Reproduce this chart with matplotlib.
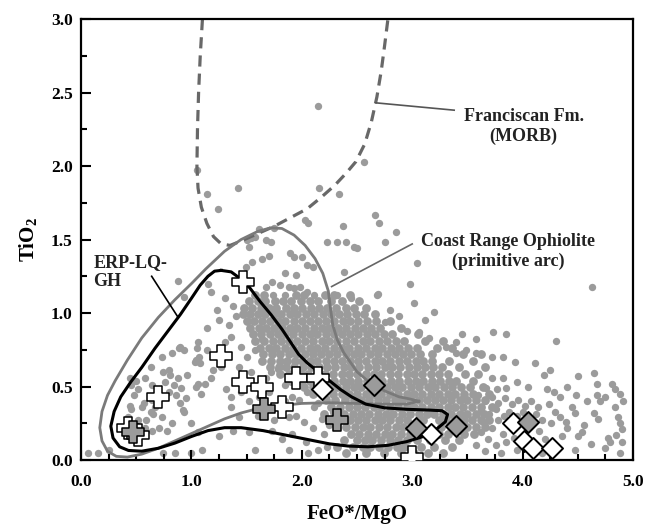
import matplotlib.pyplot as plt
import numpy as np

plt.rcParams['font.family'] = 'Liberation Serif'
plt.rcParams['font.weight'] = 'bold'
plt.rcParams['axes.labelweight'] = 'bold'
plt.rcParams['mathtext.fontset'] = 'custom'
plt.rcParams['mathtext.rm'] = 'Liberation Serif:bold'
plt.rcParams['mathtext.bf'] = 'Liberation Serif:bold'

# ---- Coast Range Ophiolite analyses (gray dots) ----
# sparse points above the main band
upper_pts = [(2.15, 2.41), (1.05, 1.97), (1.14, 1.81), (1.24, 1.71), (1.42, 1.85), (2.16, 1.85),
             (2.03, 1.63), (2.06, 1.61), (2.23, 1.48), (2.56, 2.03), (2.34, 1.81), (2.66, 1.67),
             (2.70, 1.61), (2.85, 1.55), (2.37, 1.59), (2.32, 1.48), (2.40, 1.48), (2.47, 1.45),
             (2.50, 1.44), (2.75, 1.48), (3.04, 1.34), (2.98, 1.20), (2.69, 1.13), (2.45, 1.10),
             (1.75, 1.58), (1.61, 1.57), (1.58, 1.52), (1.54, 1.51), (1.50, 1.50), (1.68, 1.50),
             (1.72, 1.48), (1.52, 1.45), (1.55, 1.35), (1.64, 1.37), (1.70, 1.39), (1.49, 1.31),
             (1.89, 1.41), (1.93, 1.38), (2.00, 1.38), (2.05, 1.33), (2.10, 1.31), (1.85, 1.27),
             (1.95, 1.26), (2.38, 1.28), (1.73, 1.21), (1.80, 1.19), (1.68, 1.18), (1.88, 1.18),
             (1.93, 1.17), (1.98, 1.18), (2.05, 1.14), (2.11, 1.12), (1.74, 1.12), (1.85, 1.12),
             (2.32, 1.12), (0.88, 1.22), (0.93, 1.11), (1.15, 1.20), (1.18, 1.14), (1.23, 1.02),
             (2.68, 1.12), (3.02, 1.07), (3.20, 1.01), (4.63, 1.18), (2.95, 0.88), (3.06, 0.87),
             (3.15, 0.83), (3.31, 0.77), (3.40, 0.80), (3.45, 0.86), (3.58, 0.82), (3.49, 0.75),
             (3.40, 0.73), (3.58, 0.73), (3.12, 0.95), (2.88, 0.98), (2.80, 1.02), (2.75, 0.94)]

# sparse points on the low-ratio side
left_pts = [(1.14, 0.90), (1.34, 0.92), (1.36, 0.84), (1.06, 0.80), (1.14, 0.75), (0.90, 0.77),
            (0.93, 0.75), (0.82, 0.73), (0.73, 0.70), (1.04, 0.68), (1.08, 0.66), (1.20, 0.61),
            (1.18, 0.56), (1.06, 0.52), (1.04, 0.50), (0.88, 0.56), (0.81, 0.58), (0.76, 0.53),
            (0.84, 0.51), (0.63, 0.63), (0.58, 0.56), (0.50, 0.54), (0.45, 0.51), (0.52, 0.48),
            (0.64, 0.41), (0.67, 0.36), (0.95, 0.42), (0.90, 0.39), (0.93, 0.33), (1.09, 0.45),
            (0.55, 0.36), (0.63, 0.33), (0.73, 0.29), (0.82, 0.25), (0.78, 0.20), (0.45, 0.35),
            (0.43, 0.29), (0.52, 0.27), (0.58, 0.22), (0.64, 0.20), (1.00, 0.25), (1.06, 0.19),
            (1.36, 0.36), (1.43, 0.29), (1.38, 0.20), (1.52, 0.19), (1.58, 0.07), (2.06, 0.05),
            (1.88, 0.07), (0.06, 0.05), (0.15, 0.05), (0.25, 0.07), (1.00, 0.05), (1.25, 0.16),
            (1.73, 0.20), (1.91, 0.18), (1.82, 0.14), (2.04, 0.12), (2.15, 0.07), (2.23, 0.09),
            (1.45, 0.77), (1.50, 0.70), (1.58, 0.75), (1.64, 0.82), (1.43, 0.63), (1.54, 0.60),
            (1.31, 0.48), (1.36, 0.43), (1.45, 0.46), (1.61, 0.43), (1.70, 0.46), (1.85, 0.51),
            (1.91, 0.43), (1.97, 0.41), (2.05, 0.46), (2.11, 0.36), (2.15, 0.39), (0.89, 0.76),
            (1.05, 0.76), (1.07, 0.70), (0.74, 0.60), (0.80, 0.61), (0.44, 0.56), (0.64, 0.51),
            (0.80, 0.46), (0.86, 0.44), (0.91, 0.49), (0.92, 0.34), (0.44, 0.37), (0.48, 0.44),
            (0.57, 0.39), (0.65, 0.31), (0.71, 0.22), (0.59, 0.27), (0.74, 0.05), (0.85, 0.05),
            (1.10, 0.07), (1.03, 0.67), (0.96, 0.58), (1.12, 0.52), (1.27, 0.63), (1.30, 0.80),
            (1.25, 0.95), (1.40, 0.98), (1.38, 1.05), (1.30, 1.10), (1.95, 0.30), (2.02, 0.26),
            (2.10, 0.22), (2.18, 0.28), (1.88, 0.29), (1.75, 0.27), (1.60, 0.30), (2.20, 0.18),
            (2.25, 0.24), (2.28, 0.33), (2.22, 0.42), (1.85, 0.40), (1.52, 0.40), (1.68, 0.56),
            (1.78, 0.62), (1.72, 0.60)]

# sparse / medium points on the high-ratio side
right_pts = [(3.60, 0.44), (3.66, 0.40), (3.72, 0.43), (3.78, 0.39), (3.84, 0.42), (3.90, 0.38),
             (3.96, 0.41), (4.02, 0.37), (4.08, 0.40), (4.14, 0.36), (3.62, 0.34), (3.70, 0.31),
             (3.76, 0.35), (3.83, 0.30), (3.88, 0.33), (3.95, 0.30), (4.00, 0.33), (4.12, 0.31),
             (4.18, 0.27), (3.64, 0.26), (3.72, 0.22), (3.78, 0.27), (3.82, 0.18), (3.69, 0.14),
             (3.76, 0.10), (3.85, 0.12), (3.62, 0.19), (3.58, 0.10), (3.66, 0.06), (3.80, 0.05),
             (3.92, 0.15), (3.95, 0.07), (4.15, 0.20), (4.20, 0.14), (4.18, 0.05), (4.24, 0.38),
             (4.29, 0.33), (4.26, 0.25), (4.34, 0.29), (4.40, 0.22), (4.36, 0.16), (4.39, 0.26),
             (4.45, 0.36), (4.47, 0.32), (4.50, 0.16), (4.54, 0.19), (4.56, 0.24), (4.47, 0.07),
             (4.62, 0.11), (4.65, 0.32), (4.68, 0.28), (4.75, 0.08), (4.77, 0.15), (4.79, 0.12),
             (4.86, 0.29), (4.88, 0.25), (4.90, 0.21), (4.85, 0.17), (4.90, 0.12), (4.88, 0.05),
             (4.84, 0.36), (4.91, 0.40), (4.70, 0.40), (4.67, 0.44), (4.48, 0.44), (4.34, 0.43),
             (4.28, 0.46), (4.22, 0.48), (4.25, 0.61), (4.19, 0.58), (4.50, 0.57), (4.65, 0.59),
             (4.67, 0.52), (4.81, 0.52), (4.84, 0.48), (4.88, 0.45), (4.75, 0.43), (4.58, 0.40),
             (4.40, 0.50), (4.05, 0.50), (3.95, 0.53), (3.85, 0.49), (3.77, 0.48), (3.67, 0.49),
             (3.72, 0.56), (3.82, 0.56), (3.72, 0.70), (3.82, 0.70), (3.93, 0.67), (4.11, 0.66),
             (3.73, 0.87), (3.85, 0.86), (4.30, 0.81)]

# dense band, read row by row: (TiO2, [FeO*/MgO, ...])
dense_rows = [
    (1.12, [1.58, 1.66, 1.95, 2.02, 2.21, 2.29, 2.44]),
    (1.08, [1.52, 1.60, 1.67, 1.76, 1.83, 1.90, 1.99, 2.07, 2.15, 2.26, 2.36, 2.52]),
    (1.035, [1.48, 1.55, 1.63, 1.70, 1.77, 1.86, 1.93, 2.00, 2.08, 2.16, 2.23, 2.31, 2.40, 2.47, 2.58]),
    (0.99, [1.47, 1.53, 1.60, 1.67, 1.75, 1.81, 1.89, 1.96, 2.04, 2.11, 2.19, 2.26, 2.34, 2.41,
            2.49, 2.56, 2.66]),
    (0.945, [1.50, 1.57, 1.64, 1.71, 1.78, 1.85, 1.93, 2.00, 2.07, 2.15, 2.22, 2.29, 2.37, 2.44,
             2.51, 2.59, 2.67, 2.80]),
    (0.90, [1.53, 1.61, 1.68, 1.75, 1.82, 1.89, 1.96, 2.03, 2.11, 2.18, 2.25, 2.33, 2.40, 2.48,
            2.55, 2.63, 2.71, 2.90]),
    (0.855, [1.56, 1.63, 1.71, 1.78, 1.85, 1.92, 2.00, 2.07, 2.14, 2.22, 2.29, 2.36, 2.44, 2.51,
             2.59, 2.66, 2.74, 2.82, 3.05]),
    (0.81, [1.58, 1.66, 1.74, 1.81, 1.88, 1.96, 2.03, 2.10, 2.18, 2.25, 2.32, 2.40, 2.47, 2.55,
            2.62, 2.70, 2.77, 2.85, 2.93, 3.12, 3.28]),
    (0.765, [1.62, 1.70, 1.77, 1.85, 1.92, 1.99, 2.07, 2.14, 2.21, 2.29, 2.36, 2.43, 2.51, 2.58,
             2.66, 2.73, 2.81, 2.88, 2.96, 3.04, 3.22, 3.36]),
    (0.72, [1.65, 1.73, 1.80, 1.88, 1.95, 2.03, 2.10, 2.17, 2.25, 2.32, 2.40, 2.47, 2.54, 2.62,
            2.69, 2.77, 2.84, 2.92, 2.99, 3.07, 3.18, 3.46, 3.62]),
    (0.675, [1.64, 1.72, 1.80, 1.87, 1.94, 2.00, 2.07, 2.14, 2.22, 2.29, 2.36, 2.44, 2.51, 2.58,
             2.66, 2.73, 2.80, 2.88, 2.95, 3.03, 3.10, 3.18, 3.33, 3.55]),
    (0.63, [1.71, 1.79, 1.86, 1.93, 2.01, 2.08, 2.16, 2.23, 2.30, 2.38, 2.45, 2.52, 2.60, 2.67,
            2.75, 2.82, 2.89, 2.97, 3.04, 3.12, 3.19, 3.27, 3.42, 3.66]),
    (0.585, [1.80, 1.88, 1.99, 2.06, 2.14, 2.21, 2.28, 2.36, 2.43, 2.50, 2.58, 2.65, 2.72, 2.80,
             2.87, 2.95, 3.02, 3.09, 3.17, 3.24, 3.32, 3.48, 3.60]),
    (0.54, [1.90, 2.00, 2.07, 2.14, 2.22, 2.29, 2.37, 2.44, 2.51, 2.59, 2.66, 2.73, 2.81, 2.88,
            2.96, 3.03, 3.10, 3.18, 3.25, 3.33, 3.40, 3.55]),
    (0.495, [2.02, 2.10, 2.25, 2.32, 2.40, 2.47, 2.54, 2.62, 2.69, 2.77, 2.84, 2.91, 2.99, 3.06,
             3.14, 3.21, 3.29, 3.36, 3.44, 3.52, 3.64]),
    (0.45, [2.10, 2.28, 2.36, 2.43, 2.50, 2.58, 2.65, 2.72, 2.80, 2.87, 2.95, 3.02, 3.09, 3.17,
            3.24, 3.32, 3.39, 3.47, 3.55, 3.70]),
    (0.405, [2.22, 2.30, 2.39, 2.47, 2.54, 2.61, 2.69, 2.76, 2.84, 2.91, 2.98, 3.06, 3.13, 3.21,
             3.28, 3.35, 3.43, 3.50, 3.58, 3.66]),
    (0.36, [2.26, 2.35, 2.43, 2.50, 2.57, 2.65, 2.72, 2.80, 2.87, 2.95, 3.02, 3.09, 3.17, 3.24,
            3.32, 3.39, 3.46, 3.54, 3.62, 3.72]),
    (0.315, [2.20, 2.38, 2.46, 2.54, 2.61, 2.69, 2.76, 2.83, 2.91, 2.98, 3.06, 3.13, 3.20, 3.28,
             3.35, 3.43, 3.50, 3.58, 3.65]),
    (0.27, [2.44, 2.51, 2.58, 2.66, 2.73, 2.80, 2.88, 2.95, 3.10, 3.24, 3.31, 3.39, 3.47, 3.54,
            3.62, 3.70]),
    (0.225, [2.40, 2.48, 2.55, 2.62, 2.70, 2.77, 2.85, 2.92, 3.26, 3.35, 3.50, 3.58, 3.66]),
    (0.18, [2.45, 2.52, 2.60, 2.67, 2.75, 2.82, 2.90, 2.98, 3.24, 3.32, 3.47, 3.56]),
    (0.135, [2.38, 2.50, 2.57, 2.64, 2.72, 2.80, 2.87, 2.95, 3.04, 3.16, 3.30, 3.42]),
    (0.09, [2.32, 2.46, 2.55, 2.62, 2.70, 2.78, 2.86, 2.93, 3.08, 3.20, 3.36]),
    (0.05, [2.40, 2.58, 2.74, 2.90, 3.02, 3.14, 3.28]),
]

# ---- field outlines ----
morb_x = [1.10, 1.08, 1.065, 1.055, 1.05, 1.06, 1.09, 1.14, 1.20, 1.27, 1.35, 1.45, 1.60, 1.75,
          1.90, 2.05, 2.18, 2.30, 2.40, 2.49, 2.57, 2.63, 2.68, 2.72, 2.75, 2.78]
morb_y = [3.00, 2.75, 2.50, 2.25, 2.00, 1.85, 1.72, 1.61, 1.52, 1.47, 1.46, 1.49, 1.54, 1.59,
          1.65, 1.71, 1.79, 1.87, 1.95, 2.03, 2.15, 2.30, 2.47, 2.65, 2.82, 3.00]

cro_x = [3.06, 2.95, 2.75, 2.50, 2.25, 2.00, 1.80, 1.60, 1.45, 1.30, 1.15, 1.00, 0.85, 0.70,
         0.55, 0.42, 0.32, 0.24, 0.19, 0.17, 0.19, 0.24, 0.31, 0.42, 0.55, 0.70, 0.85, 1.00,
         1.13, 1.30, 1.45, 1.60, 1.72, 1.82, 1.93, 2.03, 2.12, 2.19, 2.24, 2.26, 2.28, 2.32,
         2.38, 2.50, 2.61, 2.75, 2.88, 2.98, 3.06]
cro_y = [0.40, 0.38, 0.38, 0.385, 0.39, 0.385, 0.37, 0.35, 0.32, 0.28, 0.23, 0.18, 0.13, 0.08,
         0.04, 0.02, 0.025, 0.06, 0.13, 0.22, 0.33, 0.44, 0.54, 0.68, 0.83, 0.97, 1.09, 1.20,
         1.30, 1.42, 1.50, 1.555, 1.58, 1.575, 1.53, 1.46, 1.37, 1.27, 1.15, 1.03, 0.92, 0.82,
         0.73, 0.60, 0.53, 0.47, 0.43, 0.415, 0.40]

erp_x = [1.27, 1.36, 1.45, 1.53, 1.62, 1.72, 1.82, 1.90, 1.97, 2.05, 2.15, 2.25, 2.35, 2.45,
         2.58, 2.75, 2.95, 3.15, 3.27, 3.32, 3.30, 3.22, 3.10, 2.95, 2.78, 2.60, 2.42, 2.25,
         2.05, 1.85, 1.65, 1.45, 1.30, 1.15, 1.00, 0.85, 0.70, 0.55, 0.43, 0.35, 0.29, 0.27,
         0.30, 0.36, 0.45, 0.55, 0.67, 0.78, 0.90, 1.00, 1.08, 1.15, 1.21, 1.27]
erp_y = [1.29, 1.28, 1.23, 1.17, 1.08, 0.99, 0.89, 0.80, 0.72, 0.66, 0.60, 0.54, 0.48, 0.43,
         0.38, 0.355, 0.345, 0.34, 0.335, 0.31, 0.26, 0.21, 0.16, 0.125, 0.10, 0.09, 0.095, 0.11,
         0.14, 0.17, 0.20, 0.22, 0.22, 0.20, 0.16, 0.115, 0.08, 0.06, 0.065, 0.09, 0.15, 0.23,
         0.33, 0.43, 0.53, 0.63, 0.76, 0.87, 0.99, 1.10, 1.19, 1.25, 1.285, 1.29]

# ---- samples of this study ----
cross_open = [(1.47, 1.21), (1.27, 0.71), (0.70, 0.43), (1.47, 0.53), (1.64, 0.50), (1.95, 0.56),
              (2.15, 0.56), (1.82, 0.36), (0.43, 0.22), (0.52, 0.17), (3.00, 0.02)]
cross_gray = [(1.66, 0.35), (2.32, 0.27), (0.47, 0.19)]
diamond_open = [(2.18, 0.48), (3.17, 0.18), (3.91, 0.25), (4.01, 0.13), (4.09, 0.08), (4.27, 0.08)]
diamond_gray = [(2.65, 0.51), (3.03, 0.22), (3.40, 0.23), (4.05, 0.26)]

x_ticks = [0, 1, 2, 3, 4, 5]
x_ticklabels = ['0.0', '1.0', '2.0', '3.0', '4.0', '5.0']
y_ticks = [0, 0.5, 1.0, 1.5, 2.0, 2.5, 3.0]
y_ticklabels = ['0.0', '0.5', '1.0', '1.5', '2.0', '2.5', '3.0']

dot_gray = '#9b9b9b'
text_col = '#222222'

fig = plt.figure(figsize=(6.57, 5.29), dpi=100)
ax = fig.add_axes([0.1233, 0.1304, 0.8402, 0.8336])

sparse = upper_pts + left_pts + right_pts
ax.scatter([p[0] for p in sparse], [p[1] for p in sparse], s=28, c=dot_gray,
           linewidths=0, zorder=1)
ax.scatter([x for y, xs in dense_rows for x in xs], [y for y, xs in dense_rows for x in xs],
           s=40, c=dot_gray, linewidths=0, zorder=1)

ax.plot(morb_x, morb_y, color='#686868', lw=2.3, ls=(0, (3.5, 2.2)), zorder=2)
ax.plot(cro_x, cro_y, color='#7a7a7a', lw=2.0, zorder=2)
ax.plot(erp_x, erp_y, color='black', lw=2.2, zorder=3)

def pts(lst, i):
    return [p[i] for p in lst]

ax.scatter(pts(cross_open, 0), pts(cross_open, 1), marker='P', s=230, facecolor='white',
           edgecolor='black', linewidths=1.1, zorder=4)
ax.scatter(pts(cross_gray, 0), pts(cross_gray, 1), marker='P', s=230, facecolor=dot_gray,
           edgecolor='black', linewidths=1.1, zorder=4)
ax.scatter(pts(diamond_open, 0), pts(diamond_open, 1), marker='D', s=115, facecolor='white',
           edgecolor='black', linewidths=1.4, zorder=4)
ax.scatter(pts(diamond_gray, 0), pts(diamond_gray, 1), marker='D', s=115, facecolor=dot_gray,
           edgecolor='black', linewidths=1.4, zorder=4)

# labels and leader lines
ax.plot([2.67, 3.38], [2.43, 2.38], color='#555555', lw=1.2, zorder=3)
ax.text(4.01, 2.27, 'Franciscan Fm.\n(MORB)', ha='center', va='center', fontsize=13,
        fontweight='bold', color=text_col)
ax.plot([2.27, 3.00], [1.18, 1.47], color='#666666', lw=1.2, zorder=3)
ax.text(3.87, 1.42, 'Coast Range Ophiolite\n(primitive arc)', ha='center', va='center',
        fontsize=13, fontweight='bold', color=text_col)
ax.plot([0.64, 0.88], [1.25, 0.97], color='black', lw=1.2, zorder=3)
ax.text(0.11, 1.28, 'ERP-LQ-\nGH', ha='left', va='center', fontsize=13, fontweight='bold',
        color=text_col)

ax.set_xlim(0, 5)
ax.set_ylim(0, 3)
ax.set_xticks(x_ticks)
ax.set_xticklabels(x_ticklabels, fontweight='bold')
ax.set_xticks(np.arange(0, 5.01, 0.25), minor=True)
ax.set_yticks(y_ticks)
ax.set_yticklabels(y_ticklabels, fontweight='bold')
ax.set_yticks(np.arange(0, 3.01, 0.25), minor=True)
ax.tick_params(which='both', direction='in', top=False, right=False, width=1.5,
               labelsize=12.5, colors='black')
ax.tick_params(which='major', length=7)
ax.tick_params(which='minor', length=4)
ax.tick_params(axis='x', pad=10)
ax.tick_params(axis='y', pad=6)
for s in ax.spines.values():
    s.set_linewidth(1.6)

ax.set_xlabel('FeO*/MgO', fontsize=15, fontweight='bold', labelpad=10)
ax.set_ylabel(r'TiO$_\mathbf{2}$', fontsize=15, fontweight='bold', labelpad=8)

fig.savefig('out.png', dpi=100)
